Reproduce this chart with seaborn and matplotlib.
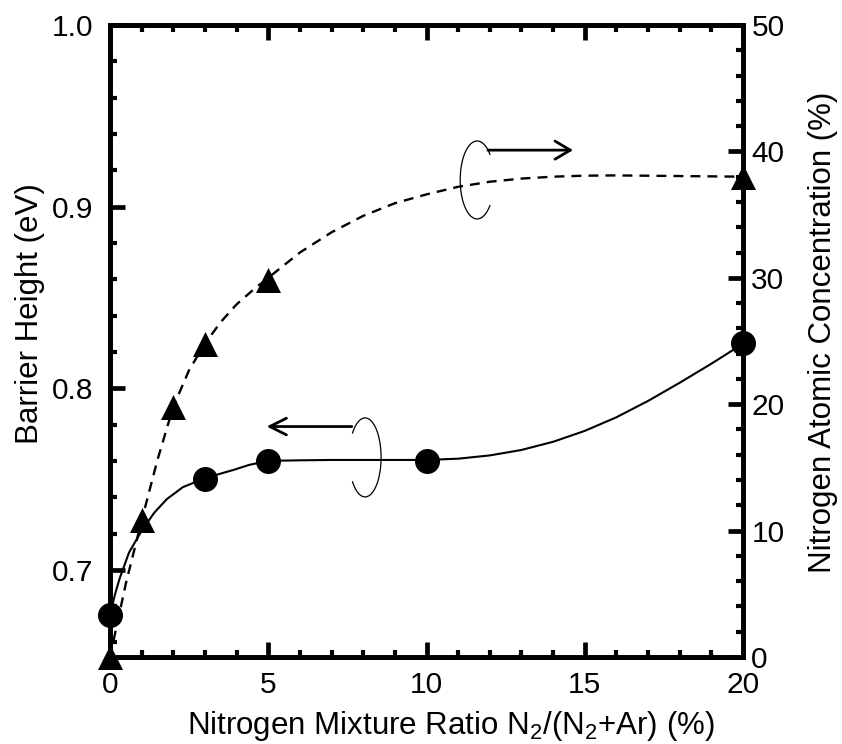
import numpy as np
import pandas as pd
import matplotlib
matplotlib.use("Agg")
import matplotlib.pyplot as plt
import seaborn as sns
from matplotlib.patches import Arc
from matplotlib.ticker import MultipleLocator, FixedLocator, FixedFormatter

# ---------------- data ----------------
# Barrier height (left axis, filled circles)
x_bh = [0, 3, 5, 10, 20]
barrier_height = [0.675, 0.750, 0.760, 0.760, 0.825]
# smooth guide curve through the barrier-height points
bh_curve_x = [0, 0.15, 0.3, 0.6, 1.0, 1.4, 1.8, 2.3, 3.0, 3.9, 4.4, 5.0, 6.0,
              7.0, 8.0, 9.0, 10.0, 11.0, 12.0, 13.0, 14.0, 15.0, 16.0, 17.0,
              18.0, 19.0, 20.0]
bh_curve_y = [0.675, 0.686, 0.695, 0.7095, 0.7215, 0.7315, 0.7390, 0.7455,
              0.7505, 0.7550, 0.7578, 0.7600, 0.7603, 0.7605, 0.7605, 0.7605,
              0.7605, 0.7612, 0.7630, 0.7660, 0.7705, 0.7765, 0.7840, 0.7930,
              0.8030, 0.8135, 0.8245]

# Nitrogen atomic concentration (right axis, filled triangles)
x_nc = [0, 1, 2, 3, 5, 20]
n_conc = [0, 10.8, 19.8, 24.8, 29.8, 38.0]
# dashed guide curve through the concentration points
nc_curve_x = [0, 0.5, 1.0, 1.5, 2.0, 2.5, 3.0, 3.5, 4.0, 4.5, 5.0, 6.0, 7.0,
              8.0, 9.0, 10.0, 11.0, 12.0, 13.0, 14.0, 15.0, 16.0, 18.0, 20.0]
nc_curve_y = [0, 5.8, 10.8, 15.6, 19.8, 22.7, 24.8, 26.5, 27.9, 29.0, 30.0,
              32.0, 33.6, 34.9, 35.9, 36.6, 37.2, 37.6, 37.85, 38.0, 38.08,
              38.1, 38.05, 38.0]

x_ticks = [0, 5, 10, 15, 20]
left_ticks = [0.7, 0.8, 0.9, 1.0]
left_tick_labels = ["0.7", "0.8", "0.9", "1.0"]
right_ticks = [0, 10, 20, 30, 40, 50]

x_label = "Nitrogen Mixture Ratio N$_2$/(N$_2$+Ar) (%)"
left_label = "Barrier Height (eV)"
right_label = "Nitrogen Atomic Concentration (%)"

# ---------------- style ----------------
sns.set_theme(style="ticks", rc={
    "axes.edgecolor": "black",
    "axes.labelcolor": "black",
    "text.color": "black",
    "xtick.color": "black",
    "ytick.color": "black",
})
plt.rcParams["font.family"] = ["Liberation Sans", "DejaVu Sans"]
plt.rcParams["mathtext.fontset"] = "custom"
plt.rcParams["mathtext.rm"] = "Liberation Sans"
plt.rcParams["mathtext.it"] = "Liberation Sans:italic"
plt.rcParams["mathtext.bf"] = "Liberation Sans:bold"

fig = plt.figure(figsize=(8.42, 7.44), dpi=100)
ax = fig.add_axes([110 / 842, 87 / 744, 633 / 842, 632 / 744])
ax2 = ax.twinx()

SPINE_W = 3.4
for a in (ax, ax2):
    for s in a.spines.values():
        s.set_linewidth(SPINE_W)
        s.set_color("black")

# ---------------- curves and markers ----------------
sns.lineplot(x=bh_curve_x, y=bh_curve_y, ax=ax, color="black", linewidth=1.5,
             estimator=None, sort=False, legend=False, zorder=3)
sns.scatterplot(x=x_bh, y=barrier_height, ax=ax, marker="o", s=18 ** 2,
                color="black", edgecolor="black", linewidth=0, zorder=5,
                clip_on=False, legend=False)

sns.lineplot(x=nc_curve_x, y=nc_curve_y, ax=ax2, color="black", linewidth=1.7,
             linestyle=(0, (4.2, 3.0)), estimator=None, sort=False,
             legend=False, zorder=3)
sns.scatterplot(x=x_nc, y=n_conc, ax=ax2, marker="^", s=18 ** 2,
                color="black", edgecolor="black", linewidth=0, zorder=5,
                clip_on=False, legend=False)

# ---------------- axes ----------------
ax.set_xlim(0, 20)
ax.set_ylim(0.652, 1.0)
ax2.set_ylim(0, 50)

ax.xaxis.set_major_locator(FixedLocator(x_ticks))
ax.xaxis.set_minor_locator(MultipleLocator(1))
ax.yaxis.set_major_locator(FixedLocator(left_ticks))
ax.yaxis.set_major_formatter(FixedFormatter(left_tick_labels))
ax.yaxis.set_minor_locator(MultipleLocator(0.02))
ax2.yaxis.set_major_locator(FixedLocator(right_ticks))
ax2.yaxis.set_minor_locator(MultipleLocator(2))

TICK_FS = 21.5
ax.tick_params(axis="x", which="both", direction="in", top=True, bottom=True,
               labelsize=TICK_FS, pad=10)
ax.tick_params(axis="y", which="both", direction="in", left=True, right=False,
               labelsize=TICK_FS, pad=12)
ax2.tick_params(axis="y", which="both", direction="in", right=True, left=False,
                labelsize=TICK_FS, pad=6)
for a in (ax, ax2):
    a.tick_params(which="major", length=11, width=3.4)
    a.tick_params(which="minor", length=5, width=3.0)

LABEL_FS = 22.5
ax.set_xlabel(x_label, fontsize=LABEL_FS)
ax.set_ylabel(left_label, fontsize=LABEL_FS)
ax2.set_ylabel(right_label, fontsize=LABEL_FS)
ax.xaxis.set_label_coords(0.539, -0.082)
ax.yaxis.set_label_coords(-0.103, 0.5435)
ax2.yaxis.set_label_coords(1.102, 0.514)

# ---------------- annotation: ellipse + arrow ----------------
def arc_theta(t_deg, w, h):
    t = np.deg2rad(t_deg)
    return np.rad2deg(np.arctan2(h * np.sin(t), w * np.cos(t)))

# upper: right axis (concentration)
uw, uh = 1.07, 6.17
ax2.add_patch(Arc((11.6, 37.74), uw, uh, theta1=arc_theta(40, uw, uh),
                  theta2=arc_theta(320, uw, uh) + 360, color="black",
                  linewidth=0.9, zorder=6))
ax2.annotate("", xy=(14.63, 40.1), xytext=(11.94, 40.1),
             arrowprops=dict(arrowstyle="->,head_length=1.1,head_width=0.65",
                             color="black", lw=2.0, mutation_scale=10,
                             shrinkA=0, shrinkB=0))

# lower: left axis (barrier height)
lw_, lh_ = 1.01, 0.0435
ax.add_patch(Arc((8.06, 0.7619), lw_, lh_, theta1=arc_theta(-143, lw_, lh_),
                 theta2=arc_theta(143, lw_, lh_), color="black",
                 linewidth=0.9, zorder=6))
ax.annotate("", xy=(4.95, 0.7789), xytext=(7.64, 0.7789),
            arrowprops=dict(arrowstyle="->,head_length=1.2,head_width=0.6",
                            color="black", lw=2.0, mutation_scale=10,
                            shrinkA=0, shrinkB=0))

fig.savefig("out.png", dpi=100)
